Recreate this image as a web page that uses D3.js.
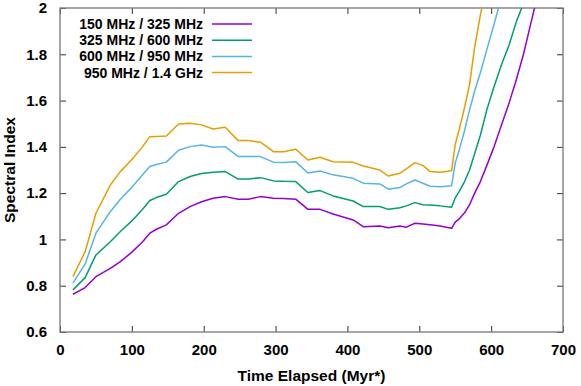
<!DOCTYPE html>
<html>
<head>
<meta charset="utf-8">
<script src="https://cdn.jsdelivr.net/npm/d3@7"></script>
<style>
body { margin: 0; background: #fff; }
svg { display: block; font-family: "Liberation Sans", Arial, sans-serif; font-weight: bold; }
</style>
</head>
<body>
<div class="wrapper"><svg width="581" height="386"></svg></div>
<script>
/* time (Myr*) */
var times = [18, 35, 50, 70, 84, 100, 115, 125, 135, 148, 165, 181, 197, 213, 230, 248, 262, 279, 297, 311, 328,
    345, 362, 380, 408, 422, 445, 457, 473, 482, 494, 505, 515, 529, 545,
    550, 556, 563, 570, 577, 585, 594, 604, 615, 625, 635, 645, 655, 665];

var s150_325 = [0.763, 0.792, 0.839, 0.875, 0.904, 0.945, 0.990, 1.027, 1.045, 1.063, 1.113, 1.142, 1.163, 1.178, 1.185,
    1.174, 1.174, 1.185, 1.178, 1.177, 1.174, 1.130, 1.130, 1.110, 1.084, 1.055, 1.058, 1.050, 1.058, 1.053,
    1.070, 1.067, 1.063, 1.058, 1.048,
    1.075, 1.090, 1.115, 1.150, 1.200, 1.250, 1.320, 1.400, 1.500, 1.590, 1.690, 1.800, 1.930, 2.060];

var s325_600 = [0.782, 0.835, 0.933, 0.990, 1.034, 1.080, 1.130, 1.168, 1.182, 1.195, 1.250, 1.272, 1.285, 1.290, 1.293,
    1.261, 1.261, 1.267, 1.253, 1.251, 1.250, 1.203, 1.211, 1.188, 1.166, 1.142, 1.142, 1.130, 1.137, 1.145,
    1.159, 1.150, 1.149, 1.145, 1.139,
    1.180, 1.210, 1.250, 1.300, 1.370, 1.450, 1.560, 1.660, 1.760, 1.840, 1.940, 2.020, 2.100, 2.200];

var s600_950 = [0.811, 0.894, 1.027, 1.120, 1.174, 1.225, 1.279, 1.315, 1.325, 1.334, 1.385, 1.401, 1.408, 1.398, 1.401,
    1.358, 1.358, 1.358, 1.334, 1.332, 1.336, 1.287, 1.296, 1.279, 1.264, 1.243, 1.240, 1.217, 1.224, 1.240,
    1.257, 1.243, 1.230, 1.228, 1.232,
    1.330, 1.390, 1.470, 1.560, 1.640, 1.720, 1.820, 1.930, 2.050, 2.150, 2.250, 2.350, 2.450, 2.550];

var s950_1400 = [0.839, 0.947, 1.113, 1.235, 1.293, 1.345, 1.401, 1.444, 1.445, 1.447, 1.499, 1.502, 1.495, 1.477, 1.485,
    1.427, 1.427, 1.420, 1.379, 1.379, 1.390, 1.343, 1.355, 1.336, 1.333, 1.317, 1.300, 1.274, 1.286, 1.305,
    1.332, 1.320, 1.293, 1.290, 1.297,
    1.410, 1.480, 1.570, 1.670, 1.830, 1.970, 2.100, 2.250, 2.400, 2.550, 2.700, 2.850, 3.000, 3.150];

var seriesNames = ['150 MHz / 325 MHz', '325 MHz / 600 MHz', '600 MHz / 950 MHz', '950 MHz / 1.4 GHz'];
var seriesColors = ['#9400d3', '#009e73', '#56b4e9', '#e69f00'];
var xTicks = [0, 100, 200, 300, 400, 500, 600, 700];
var yTicks = [0.6, 0.8, 1, 1.2, 1.4, 1.6, 1.8, 2];

draw();

function draw()
{
    var allSeries = [s150_325, s325_600, s600_950, s950_1400];

    /* plot box */
    var left = 60, right = 563, top = 8, bottom = 332;

    var x = d3.scaleLinear().domain([0, 700]).range([left, right]);
    var y = d3.scaleLinear().domain([0.6, 2]).range([bottom, top]);

    var svg = d3.select('.wrapper').select('svg');
    svg.html('');

    svg.append('defs').append('clipPath').attr('id', 'plotclip')
        .append('rect')
        .attr('x', left).attr('y', top)
        .attr('width', right - left).attr('height', bottom - top);

    /* ticks, gnuplot style: inward, on all four sides */
    var tickLen = 6;
    var axB = d3.axisBottom(x).tickValues(xTicks).tickSizeInner(-tickLen).tickSizeOuter(0).tickPadding(12);
    var axT = d3.axisTop(x).tickValues(xTicks).tickSizeInner(-tickLen).tickSizeOuter(0).tickFormat('');
    var axL = d3.axisLeft(y).tickValues(yTicks).tickSizeInner(-tickLen).tickSizeOuter(0).tickPadding(13)
        .tickFormat(function(d) { return d3.format('')(+d.toFixed(1)); });
    var axR = d3.axisRight(y).tickValues(yTicks).tickSizeInner(-tickLen).tickSizeOuter(0).tickFormat('');

    var gB = svg.append('g').attr('transform', 'translate(0,' + bottom + ')').call(axB);
    var gT = svg.append('g').attr('transform', 'translate(0,' + top + ')').call(axT);
    var gL = svg.append('g').attr('transform', 'translate(' + left + ',0)').call(axL);
    var gR = svg.append('g').attr('transform', 'translate(' + right + ',0)').call(axR);

    [gB, gT, gL, gR].forEach(function(g) {
        g.select('.domain').remove();
        g.selectAll('.tick line').attr('stroke', '#333').attr('stroke-width', 1);
        g.selectAll('.tick text').attr('fill', '#000').attr('font-size', 15)
            .attr('font-family', '"Liberation Sans", Arial, sans-serif').attr('font-weight', 'bold');
    });

    /* the border */
    svg.append('rect')
        .attr('x', left).attr('y', top)
        .attr('width', right - left).attr('height', bottom - top)
        .attr('fill', 'none').attr('stroke', '#7f7f7f').attr('stroke-width', 1.4);

    var line = d3.line()
        .x(function(d, i) { return x(times[i]); })
        .y(function(d) { return y(d); });

    svg.append('g').attr('clip-path', 'url(#plotclip)')
        .selectAll('path').data(allSeries).enter().append('path')
        .attr('d', line)
        .attr('fill', 'none')
        .attr('stroke', function(d, i) { return seriesColors[i]; })
        .attr('stroke-width', 1.5)
        .attr('stroke-linejoin', 'round');

    /* legend */
    var leg = svg.append('g').selectAll('g').data(seriesNames).enter().append('g')
        .attr('transform', function(d, i) { return 'translate(0,' + (24 + i * 16.2) + ')'; });

    leg.append('text')
        .attr('x', 203).attr('dy', '0.35em')
        .attr('text-anchor', 'end')
        .attr('font-size', 14)
        .text(function(d) { return d; });

    leg.append('line')
        .attr('x1', 212).attr('x2', 252)
        .attr('stroke', function(d, i) { return seriesColors[i]; })
        .attr('stroke-width', 1.5);

    /* axis titles */
    svg.append('text')
        .attr('x', (left + right) / 2).attr('y', 381)
        .attr('text-anchor', 'middle').attr('font-size', 15.5)
        .text('Time Elapsed (Myr*)');

    svg.append('text')
        .attr('transform', 'translate(15,' + ((top + bottom) / 2) + ') rotate(-90)')
        .attr('text-anchor', 'middle').attr('font-size', 15.5)
        .text('Spectral Index');
}
</script>
</body>
</html>
